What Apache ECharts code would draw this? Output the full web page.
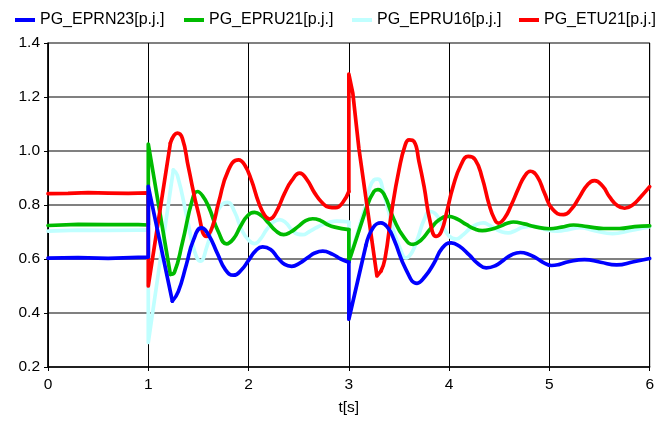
<!DOCTYPE html>
<html>
<head>
<meta charset="utf-8">
<script src="https://cdn.jsdelivr.net/npm/echarts@6/dist/echarts.min.js"></script>
<style>
html,body{margin:0;padding:0;background:#fff;}
#chart{width:657px;height:421px;}
</style>
</head>
<body>
<div id="chart"></div>
<script>
// ---- names & ticks ----
const seriesNames = ['PG_EPRN23[p.j.]', 'PG_EPRU21[p.j.]', 'PG_EPRU16[p.j.]', 'PG_ETU21[p.j.]'];
const xTicks = [0, 1, 2, 3, 4, 5, 6];
const yTicks = [0.2, 0.4, 0.6, 0.8, 1.0, 1.2, 1.4];
const xTitle = 't[s]';

// ---- PG_EPRN23 (blue) [t, value] ----
const blueA = [[0,0.603],[0.3,0.605],[0.6,0.602],[0.9,0.606],[1.0,0.607],[1.0,0.869],[1.24,0.444]];
const blueB = [[1.24,0.444],[1.30,0.48],[1.38,0.58],[1.45,0.67],[1.53,0.715],[1.60,0.69],[1.69,0.62],[1.77,0.56],[1.85,0.54],[1.93,0.56],[2.00,0.595],[2.07,0.63],[2.14,0.645],[2.22,0.635],[2.29,0.605],[2.36,0.58],[2.43,0.573],[2.51,0.585],[2.59,0.605],[2.66,0.622],[2.74,0.629],[2.84,0.617],[2.92,0.60],[3.0,0.588]];
const blueC = [[3.0,0.588],[3.0,0.377],[3.17,0.65]];
const blueD = [[3.17,0.65],[3.24,0.715],[3.32,0.734],[3.39,0.715],[3.45,0.672],[3.57,0.561],[3.68,0.51],[3.76,0.535],[3.85,0.585],[3.93,0.64],[4.02,0.66],[4.10,0.648],[4.20,0.615],[4.28,0.585],[4.37,0.567],[4.46,0.575],[4.54,0.595],[4.62,0.615],[4.71,0.624],[4.79,0.618],[4.87,0.603],[4.95,0.585],[5.02,0.576],[5.10,0.58],[5.19,0.59],[5.35,0.598],[5.51,0.588],[5.67,0.578],[5.84,0.59],[6.0,0.602]];

// ---- PG_EPRU21 (green) ----
const greenA = [[0,0.724],[0.3,0.728],[0.6,0.727],[0.9,0.727],[1.0,0.726],[1.0,1.026],[1.22,0.543]];
const greenB = [[1.22,0.543],[1.26,0.55],[1.34,0.66],[1.44,0.82],[1.49,0.85],[1.54,0.835],[1.60,0.795],[1.70,0.70],[1.78,0.656],[1.85,0.675],[1.92,0.721],[1.99,0.76],[2.06,0.773],[2.13,0.76],[2.20,0.733],[2.27,0.705],[2.35,0.69],[2.42,0.70],[2.49,0.719],[2.57,0.742],[2.64,0.749],[2.72,0.742],[2.79,0.727],[2.86,0.718],[3.0,0.709]];
const greenC = [[3.0,0.709],[3.0,0.59],[3.18,0.795]];
const greenD = [[3.18,0.795],[3.25,0.85],[3.29,0.857],[3.35,0.84],[3.45,0.746],[3.55,0.68],[3.64,0.654],[3.72,0.67],[3.81,0.71],[3.90,0.745],[3.99,0.758],[4.08,0.748],[4.17,0.728],[4.25,0.712],[4.33,0.705],[4.42,0.71],[4.50,0.72],[4.58,0.732],[4.64,0.737],[4.75,0.73],[4.85,0.72],[5.0,0.712],[5.12,0.718],[5.24,0.726],[5.38,0.72],[5.54,0.713],[5.70,0.713],[5.85,0.72],[6.0,0.723]];

// ---- PG_EPRU16 (light cyan) ----
const cyanA = [[0,0.703],[0.3,0.707],[0.6,0.706],[0.9,0.707],[1.0,0.708],[1.0,0.291],[1.25,0.93]];
const cyanB = [[1.25,0.93],[1.29,0.91],[1.39,0.746],[1.46,0.63],[1.52,0.592],[1.58,0.64],[1.67,0.758],[1.73,0.80],[1.79,0.81],[1.86,0.775],[1.93,0.709],[2.00,0.67],[2.06,0.657],[2.12,0.675],[2.18,0.709],[2.25,0.738],[2.31,0.746],[2.37,0.735],[2.43,0.709],[2.49,0.692],[2.54,0.69],[2.60,0.70],[2.67,0.715],[2.74,0.728],[2.80,0.735],[2.88,0.74],[3.0,0.737]];
const cyanC = [[3.0,0.737],[3.0,0.59],[3.18,0.815]];
const cyanD = [[3.18,0.815],[3.25,0.893],[3.29,0.896],[3.35,0.84],[3.45,0.70],[3.51,0.64],[3.57,0.604],[3.63,0.625],[3.69,0.68],[3.75,0.745],[3.81,0.776],[3.87,0.765],[3.94,0.72],[4.0,0.685],[4.07,0.674],[4.14,0.69],[4.20,0.71],[4.27,0.727],[4.34,0.734],[4.40,0.725],[4.47,0.71],[4.53,0.70],[4.59,0.697],[4.66,0.705],[4.74,0.718],[4.84,0.722],[4.95,0.71],[5.08,0.703],[5.20,0.71],[5.30,0.716],[5.45,0.705],[5.63,0.694],[5.80,0.705],[6.0,0.72]];

// ---- PG_ETU21 (red) ----
const redA = [[0,0.842],[0.2,0.843],[0.4,0.846],[0.6,0.844],[0.8,0.843],[1.0,0.845],[1.0,0.50],[1.22,1.029]];
const redB = [[1.22,1.029],[1.29,1.066],[1.34,1.047],[1.40,0.94],[1.50,0.77],[1.58,0.684],[1.64,0.72],[1.70,0.807],[1.80,0.93],[1.90,0.967],[1.96,0.949],[2.03,0.89],[2.10,0.81],[2.16,0.762],[2.21,0.748],[2.27,0.77],[2.36,0.844],[2.43,0.89],[2.51,0.918],[2.58,0.895],[2.66,0.844],[2.73,0.81],[2.80,0.792],[2.87,0.79],[2.94,0.81],[3.0,0.85]];
const redC = [[3.0,0.85],[3.0,1.285],[3.04,1.213],[3.10,1.01],[3.28,0.537],[3.32,0.555]];
const redD = [[3.32,0.555],[3.36,0.60],[3.43,0.783],[3.50,0.93],[3.56,1.02],[3.60,1.041],[3.65,1.035],[3.70,0.96],[3.75,0.869],[3.81,0.74],[3.87,0.684],[3.92,0.70],[3.98,0.78],[4.04,0.869],[4.12,0.95],[4.19,0.98],[4.26,0.968],[4.33,0.90],[4.40,0.80],[4.45,0.75],[4.49,0.733],[4.55,0.75],[4.62,0.80],[4.69,0.86],[4.75,0.905],[4.81,0.925],[4.88,0.905],[4.95,0.845],[5.03,0.785],[5.14,0.764],[5.22,0.785],[5.30,0.83],[5.38,0.875],[5.45,0.89],[5.53,0.87],[5.60,0.83],[5.68,0.797],[5.75,0.788],[5.83,0.80],[5.91,0.83],[6.0,0.868]];

const colors = ['#0000ff', '#00bb00', '#c0ffff', '#ff0000'];
const FONT = 'Arial, "Liberation Sans", sans-serif';

function seg(idx, data, smooth, z) {
  return {
    type: 'line', name: seriesNames[idx], data: data,
    smooth: smooth ? 0.5 : false, symbol: 'none', showSymbol: false,
    lineStyle: { color: colors[idx], width: 3.7, join: 'round', cap: 'round' },
    itemStyle: { color: colors[idx] }, z: z, animation: false
  };
}

const groups = [
  [0, [blueA, blueB, blueC, blueD], 5],
  [1, [greenA, greenB, greenC, greenD], 3],
  [2, [cyanA, cyanB, cyanC, cyanD], 2],
  [3, [redA, redB, redC, redD], 4]
];
const series = [];
groups.forEach(([idx, segs, z]) => {
  segs.forEach((d, k) => series.push(seg(idx, d, k % 2 === 1, z)));
});

const legendLeft = [10, 179, 347, 514];
const legends = seriesNames.map((n, i) => ({
  data: [n], left: legendLeft[i], top: 7, icon: 'rect', itemWidth: 20, itemHeight: 4,
  selectedMode: false,
  textStyle: { fontSize: 16, fontFamily: FONT, color: '#000' }
}));

const chart = echarts.init(document.getElementById('chart'), null, { renderer: 'canvas' });
chart.setOption({
  backgroundColor: '#fff',
  animation: false,
  legend: legends,
  grid: { left: 48, right: 3, top: 43, bottom: 53, show: true, borderColor: '#000', borderWidth: 1, containLabel: false },
  xAxis: {
    type: 'value', min: xTicks[0], max: xTicks[xTicks.length - 1], interval: 1,
    name: xTitle, nameLocation: 'middle', nameGap: 33,
    nameTextStyle: { fontSize: 15.5, fontFamily: FONT, color: '#000' },
    axisLine: { show: true, lineStyle: { color: '#000', width: 1.5 } },
    axisTick: { show: true, inside: false, length: 4, lineStyle: { color: '#000' } },
    axisLabel: { fontSize: 15.5, fontFamily: FONT, color: '#000', margin: 10 },
    splitLine: { show: true, lineStyle: { color: '#000', width: 1 } }
  },
  yAxis: {
    type: 'value', min: yTicks[0], max: yTicks[yTicks.length - 1], interval: 0.2,
    axisLine: { show: true, lineStyle: { color: '#000', width: 1.5 } },
    axisTick: { show: true, inside: false, length: 4, lineStyle: { color: '#000' } },
    axisLabel: { fontSize: 15.5, fontFamily: FONT, color: '#000', margin: 8, formatter: v => v.toFixed(1) },
    splitLine: { show: true, lineStyle: { color: '#808080', width: 2 } }
  },
  series: series
});
</script>
</body>
</html>
